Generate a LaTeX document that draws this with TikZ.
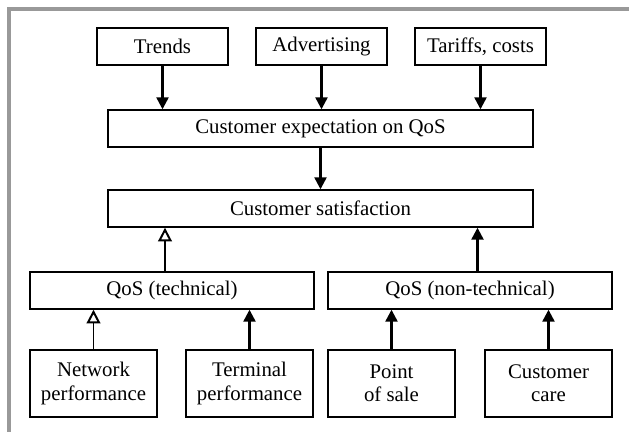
\documentclass[tikz,border=0pt]{standalone}
\usepackage{fontspec}
\setmainfont{Liberation Serif}
\usetikzlibrary{arrows.meta}

\begin{document}
\begin{tikzpicture}[x=0.025cm,y=-0.025cm,
        font=\fontsize{14.8pt}{16.5pt}\selectfont,
        box/.style={draw,line width=1pt,inner sep=0pt,align=center,
                minimum height=0.925cm},
        smallbox/.style={box,minimum width=3.275cm},
        widebox/.style={box,minimum width=10.625cm},
        midbox/.style={box,minimum width=7.1cm},
        lowbox/.style={box,minimum width=3.175cm,minimum height=1.675cm},
        fullarrow/.style={line width=1.7pt,-{Triangle[width=0.3cm,length=0.3cm]}},
        openarrow/.style={line width=0.8pt,-{Triangle[open,width=0.34cm,length=0.34cm,line width=1.4pt]}}]
        \useasboundingbox (0,0) rectangle (629,432);

        % frame on the left and top
        \draw[gray!80,line width=2.8pt] (9,432) -- (9,9) -- (629,9);

        % inputs to the expectation
        \node[smallbox] (trends)  at (162.5,46.5) {Trends};
        \node[smallbox] (adv)     at (321.5,46.5) {Advertising};
        \node[smallbox] (tariffs) at (480.5,46.5) {Tariffs, costs};

        % expectation and satisfaction
        \node[widebox] (expect) at (320.5,128.5) {Customer expectation on QoS};
        \node[widebox] (sat)    at (320.5,208.5) {Customer satisfaction};

        % the two kinds of QoS
        \node[midbox] (tech)    at (172,290.5) {QoS (technical)};
        \node[midbox] (nontech) at (470,290.5) {QoS (non-technical)};

        % contributors
        \node[lowbox] (net)   at (93.5,383.5)  {Network\\performance};
        \node[lowbox] (term)  at (249.5,383.5) {Terminal\\performance};
        \node[lowbox] (point) at (391.5,383.5) {Point\\of sale};
        \node[lowbox] (care)  at (548.5,383.5) {Customer\\care};

        %draw the arrows
        \foreach \n in {trends,adv,tariffs}
                \draw[fullarrow] (\n.south) -- (\n.south |- expect.north);
        \draw[fullarrow] (expect.south) -- (sat.north);
        \draw[openarrow] ([xshift=-0.175cm]tech.north) -- ([xshift=-0.175cm]tech.north |- sat.south);
        \draw[fullarrow] ([xshift=0.1875cm]nontech.north) -- ([xshift=0.1875cm]nontech.north |- sat.south);
        \draw[openarrow] (net.north) -- (net.north |- tech.south);
        \draw[fullarrow] (term.north) -- (term.north |- tech.south);
        \foreach \n in {point,care}
                \draw[fullarrow] (\n.north) -- (\n.north |- nontech.south);
\end{tikzpicture}
\end{document}
